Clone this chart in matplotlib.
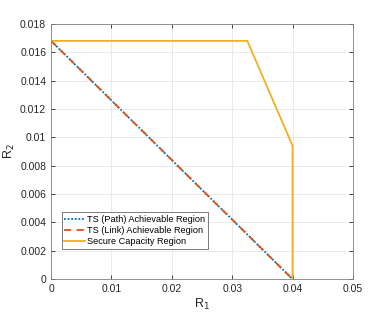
import matplotlib
matplotlib.use('Agg')
import matplotlib.pyplot as plt
import numpy as np

plt.rcParams['font.family'] = ['Liberation Sans', 'DejaVu Sans']

# achievable regions (both the same straight line)
path_r1 = [0.0, 0.04]
path_r2 = [0.0168, 0.0]
link_r1 = [0.0, 0.04]
link_r2 = [0.0168, 0.0]
# secure capacity region boundary
cap_r1 = [0.0, 0.0325, 0.04, 0.04]
cap_r2 = [0.0168, 0.0168, 0.0094, 0.0]

xticks = [0, 0.01, 0.02, 0.03, 0.04, 0.05]
yticks = [0, 0.002, 0.004, 0.006, 0.008, 0.01, 0.012, 0.014, 0.016, 0.018]

fig = plt.figure(figsize=(3.9, 3.14), dpi=100)
ax = fig.add_axes([0.131, 0.111, 0.774, 0.813])

ax.plot(path_r1, path_r2, color='#0072BD', linestyle=(0, (1, 1)), linewidth=1.3,
        label='TS (Path) Achievable Region')
ax.plot(link_r1, link_r2, color='#D95319', linestyle=(0, (4, 3)), linewidth=1.3,
        label='TS (Link) Achievable Region')
ax.plot(cap_r1, cap_r2, color='#EDB120', linewidth=1.3,
        label='Secure Capacity Region')

ax.set_xlim(0, 0.05)
ax.set_ylim(0, 0.018)
ax.set_xticks(xticks)
ax.set_xticklabels(['0', '0.01', '0.02', '0.03', '0.04', '0.05'])
ax.set_yticks(yticks)
ax.set_yticklabels(['0', '0.002', '0.004', '0.006', '0.008', '0.01', '0.012', '0.014', '0.016', '0.018'])
ax.grid(True, color='#e6e6e6', linewidth=0.6)
ax.set_axisbelow(True)
ax.tick_params(direction='in', length=3, width=0.6, colors='#262626', labelsize=7.5,
               top=True, right=True)
for s in ax.spines.values():
    s.set_color('#808080')
    s.set_linewidth(0.6)

ax.set_xlabel('R$_1$', fontsize=9, color='#262626', labelpad=2)
ax.set_ylabel('R$_2$', fontsize=9, color='#262626', labelpad=2)

leg = ax.legend(loc='lower left', bbox_to_anchor=(0.035, 0.12), fontsize=6.6,
                frameon=True, fancybox=False, edgecolor='#404040', borderpad=0.3,
                labelspacing=0.2, handlelength=2.2, handletextpad=0.3, borderaxespad=0)
leg.get_frame().set_linewidth(0.6)

fig.savefig('out.png', dpi=100)
